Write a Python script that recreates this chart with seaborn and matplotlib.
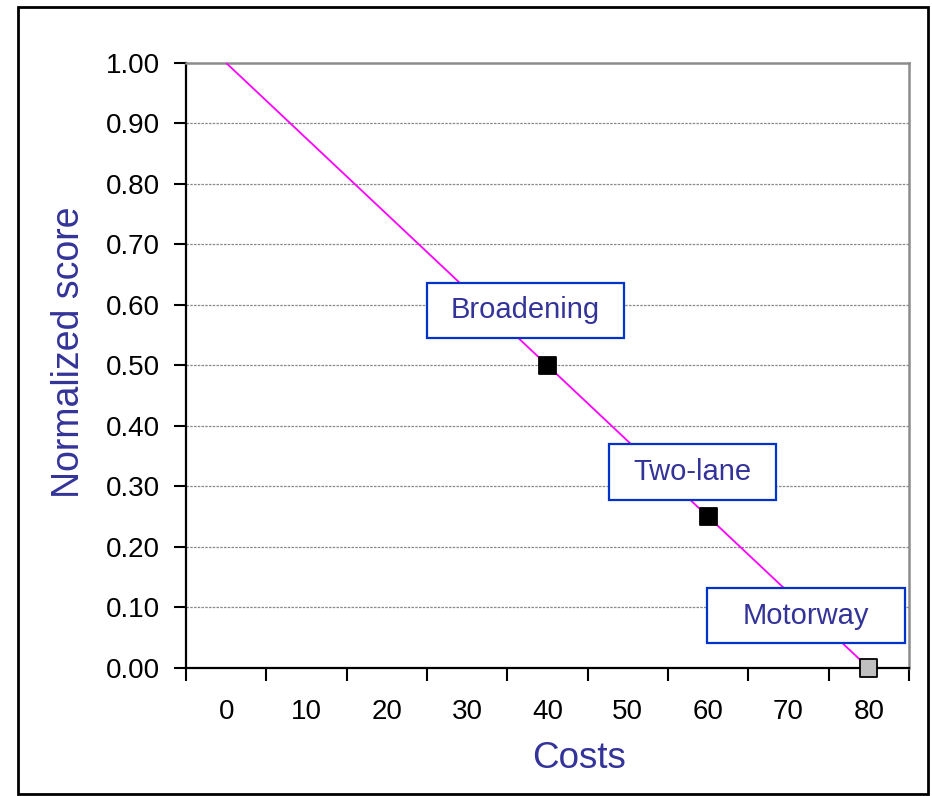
import matplotlib
matplotlib.use("Agg")
import matplotlib.pyplot as plt
from matplotlib.patches import Rectangle
import seaborn as sns
import pandas as pd

# Value function for costs, and the three road options scored on it
curve_costs = [0, 40, 60, 80]
curve_scores = [1.00, 0.50, 0.25, 0.00]

options = ["Broadening", "Two-lane", "Motorway"]
option_costs = [40, 60, 80]
option_scores = [0.50, 0.25, 0.00]
option_colors = ["#000000", "#000000", "#c0c0c0"]

x_tick_labels = [0, 10, 20, 30, 40, 50, 60, 70, 80]
y_ticks = [0.0, 0.1, 0.2, 0.3, 0.4, 0.5, 0.6, 0.7, 0.8, 0.9, 1.0]

# Callout boxes: (x0, x1, y0, y1) in data units
callouts = {
    "Broadening": (25.0, 49.5, 0.546, 0.636),
    "Two-lane": (47.6, 68.4, 0.278, 0.370),
    "Motorway": (59.9, 84.5, 0.041, 0.132),
}

sns.set_theme(style="white")
plt.rcParams["font.family"] = ["Liberation Sans", "DejaVu Sans"]

TEXT_BLUE = "#333399"
BOX_BLUE = "#0033cc"

fig = plt.figure(figsize=(9.32, 7.96), dpi=100)
ax = fig.add_axes([0.1996, 0.1608, 0.9753 - 0.1996, 0.9209 - 0.1608])

curve = pd.DataFrame({"cost": curve_costs, "score": curve_scores})
sns.lineplot(data=curve, x="cost", y="score", ax=ax, color="#ff00ff",
             linewidth=1.3, zorder=3)

pts = pd.DataFrame({"cost": option_costs, "score": option_scores, "option": options})
sns.scatterplot(data=pts, x="cost", y="score", hue="option", palette=option_colors,
                marker="s", s=150, edgecolor="black", linewidth=1.3,
                legend=False, ax=ax, zorder=5, clip_on=False)

for name, (x0, x1, y0, y1) in callouts.items():
    ax.add_patch(Rectangle((x0, y0), x1 - x0, y1 - y0, facecolor="white",
                           edgecolor=BOX_BLUE, linewidth=1.6, zorder=6,
                           clip_on=False))
    ax.text((x0 + x1) / 2, (y0 + y1) / 2, name, ha="center", va="center",
            fontsize=21, color=TEXT_BLUE, zorder=7)

ax.set_xlim(-5, 85)
ax.set_ylim(0, 1.0)

# Category-style x axis: tick marks between labels
ax.set_xticks([-5 + 10 * i for i in range(10)])
ax.set_xticklabels([])
ax.set_xticks(x_tick_labels, minor=True)
ax.set_xticklabels([str(v) for v in x_tick_labels], minor=True)
ax.tick_params(axis="x", which="major", direction="out", length=9, width=1.5,
               color="black", bottom=True)
ax.tick_params(axis="x", which="minor", length=0, pad=22, labelsize=20,
               labelcolor="black", bottom=True)

ax.set_yticks(y_ticks)
ax.set_yticklabels([f"{v:.2f}" for v in y_ticks])
ax.tick_params(axis="y", direction="out", length=9, width=1.5, color="black",
               pad=10, labelsize=20, labelcolor="black", left=True)

for v in y_ticks[1:-1]:
    ax.axhline(v, color="#8a8a8a", linewidth=0.9, linestyle=(0, (2, 1)), zorder=1)

for side in ["left", "bottom"]:
    ax.spines[side].set_color("black")
    ax.spines[side].set_linewidth(1.6)
for side in ["top", "right"]:
    ax.spines[side].set_color("#8c8c8c")
    ax.spines[side].set_linewidth(1.8)

ax.set_xlabel("Costs", fontsize=26.5, color=TEXT_BLUE)
ax.set_ylabel("Normalized score", fontsize=27, color=TEXT_BLUE)
ax.xaxis.set_label_coords(0.5436, -0.12)
ax.yaxis.set_label_coords(-0.137, 0.522)

# Frame around the whole chart
fig.add_artist(Rectangle((0.0193, 0.0025), 0.9957 - 0.0193, 0.9912 - 0.0025,
                         transform=fig.transFigure, fill=False,
                         edgecolor="black", linewidth=2.0))

fig.savefig("out.png", dpi=100, facecolor="white")
